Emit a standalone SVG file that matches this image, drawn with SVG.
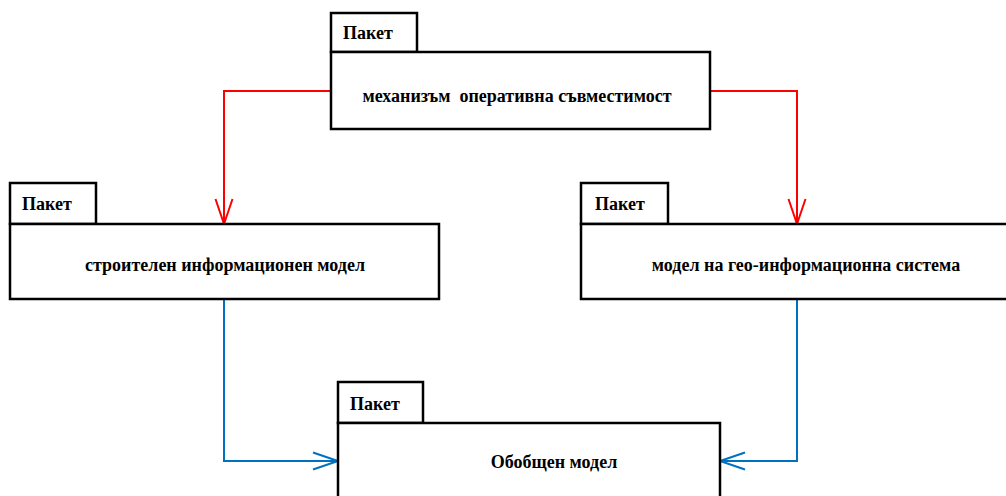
<svg xmlns="http://www.w3.org/2000/svg" width="1006" height="496" viewBox="0 0 1006 496">
<style>
.box{fill:#fff;stroke:#000;stroke-width:2.5}
text{font-family:'Liberation Serif','Times New Roman',Times,serif;font-weight:bold;font-size:18px;fill:#000;white-space:pre}
.c{text-anchor:middle}
.red{fill:none;stroke:#f00;stroke-width:2}
.blue{fill:none;stroke:#0070c0;stroke-width:2}
</style>
<defs>
<marker id="ar" markerUnits="userSpaceOnUse" markerWidth="30" markerHeight="22" refX="26" refY="10" orient="auto" viewBox="0 0 30 20">
<path d="M1,1.5 L26,10 L1,18.5" fill="none" stroke="#f00" stroke-width="2"/>
</marker>
<marker id="ab" markerUnits="userSpaceOnUse" markerWidth="30" markerHeight="22" refX="26" refY="10" orient="auto" viewBox="0 0 30 20">
<path d="M1,1.5 L26,10 L1,18.5" fill="none" stroke="#0070c0" stroke-width="2"/>
</marker>
</defs>
<rect width="1006" height="496" fill="#fff"/>
<g id="connectors">
<polyline class="red" points="331,91 224,91 224,224" marker-end="url(#ar)"/>
<polyline class="red" points="710,91 797,91 797,224" marker-end="url(#ar)"/>
<polyline class="blue" points="224,299 224,461 338,461" marker-end="url(#ab)"/>
<polyline class="blue" points="797,299 797,461 720,461" marker-end="url(#ab)"/>
</g>
<g id="pkg-mechanism">
<rect class="box" x="331" y="13" width="86" height="39"/>
<rect class="box" x="331" y="52" width="379" height="77"/>
<text x="343" y="39">Пакет</text>
<text class="c" x="517" y="102">механизъм  оперативна съвместимост</text>
</g>
<g id="pkg-bim">
<rect class="box" x="10" y="183" width="86" height="41"/>
<rect class="box" x="10" y="224" width="429" height="75"/>
<text x="22" y="210">Пакет</text>
<text class="c" x="225" y="271">строителен информационен модел</text>
</g>
<g id="pkg-gis">
<rect class="box" x="581" y="183" width="87" height="41"/>
<rect class="box" x="581" y="224" width="450" height="75"/>
<text x="595" y="210">Пакет</text>
<text class="c" x="806" y="271">модел на гео-информационна система</text>
</g>
<g id="pkg-general">
<rect class="box" x="338" y="382" width="85" height="41"/>
<rect class="box" x="338" y="423" width="382" height="90"/>
<text x="350" y="410">Пакет</text>
<text class="c" x="554" y="468">Обобщен модел</text>
</g>
</svg>
